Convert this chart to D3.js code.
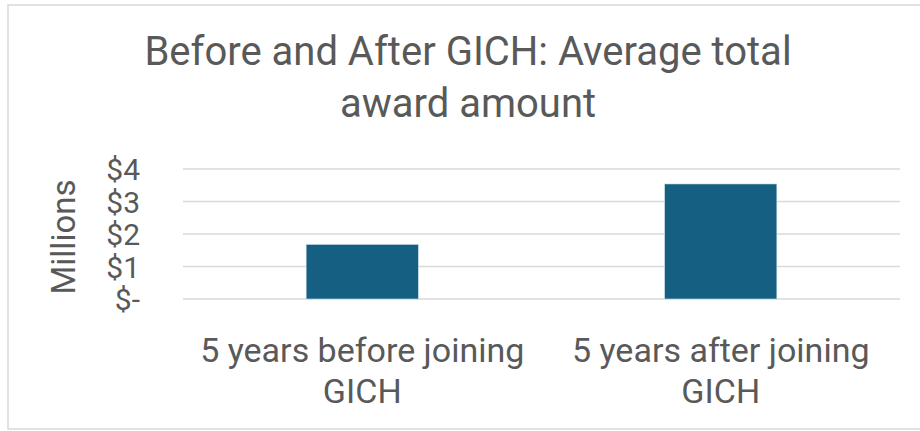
<!DOCTYPE html>
<html>
<head>
<meta charset="utf-8">
<script src="https://cdn.jsdelivr.net/npm/d3@7"></script>
<style>
  html, body { margin: 0; padding: 0; background: #fff; }
  svg { display: block; font-family: Roboto, "Noto Sans", sans-serif; }
</style>
</head>
<body>
<svg id="chart" width="920" height="431"></svg>
<script>
// data (values in millions of dollars)
const categories = [
  ["5 years before joining", "GICH"],
  ["5 years after joining", "GICH"]
];
const awardValues = [1.68, 3.54];
const yTicks = [0, 1, 2, 3, 4];
const yTickLabels = ["$-", "$1", "$2", "$3", "$4"];

const titleLines = ["Before and After GICH: Average total", "award amount"];
const axisTitle = "Millions";

const WIDTH = 920;
const PLOT = { left: 183, right: 900, top: 169, bottom: 299 };
const TEXT = "#595959";
const BAR = "#156082";

const svg = d3.select("#chart");

// chart area border
svg.append("rect")
  .attr("x", 8).attr("y", 5)
  .attr("width", WIDTH + 10).attr("height", 424)
  .attr("fill", "#fff")
  .attr("stroke", "#d9d9d9")
  .attr("stroke-width", 1.5);

// title
svg.append("text")
  .attr("text-anchor", "middle")
  .attr("font-size", 40)
  .attr("fill", TEXT)
  .selectAll("tspan")
  .data(titleLines)
  .join("tspan")
    .attr("x", 468)
    .attr("y", (d, i) => 65 + i * 52)
    .text(d => d);

const keys = categories.map(d => d.join(" "));

const xScale = d3.scaleBand()
  .domain(keys)
  .range([PLOT.left, PLOT.right])
  .paddingInner(0.687)
  .paddingOuter(0.3435);

const yScale = d3.scaleLinear()
  .domain([0, 4])
  .range([PLOT.bottom, PLOT.top]);

// gridlines
svg.append("g")
  .selectAll("line")
  .data(yTicks)
  .join("line")
    .attr("x1", PLOT.left)
    .attr("x2", PLOT.right)
    .attr("y1", d => yScale(d))
    .attr("y2", d => yScale(d))
    .attr("stroke", "#d9d9d9")
    .attr("stroke-width", 1.5);

// bars
svg.append("g")
  .selectAll("rect")
  .data(awardValues)
  .join("rect")
    .attr("x", (d, i) => xScale(keys[i]))
    .attr("y", d => yScale(d))
    .attr("width", xScale.bandwidth())
    .attr("height", d => yScale(0) - yScale(d))
    .attr("fill", BAR)
    .attr("stroke", "#cfe0e8")
    .attr("stroke-width", 0.6);

// y axis labels (no domain line, no ticks)
const yAxis = svg.append("g")
  .attr("transform", `translate(${PLOT.left},0)`)
  .call(d3.axisLeft(yScale)
    .tickValues(yTicks)
    .tickSize(0)
    .tickPadding(43)
    .tickFormat((d, i) => yTickLabels[i]));
yAxis.select(".domain").remove();
yAxis.selectAll("text")
  .attr("font-family", "Roboto, 'Noto Sans', sans-serif")
  .attr("font-size", 30)
  .attr("fill", TEXT)
  .attr("dy", "0.36em");

svg.append("text")
  .attr("transform", "translate(75,237) rotate(-90)")
  .attr("text-anchor", "middle")
  .attr("font-size", 33)
  .attr("fill", TEXT)
  .text(axisTitle);

// category labels
const xLabels = svg.append("g")
  .selectAll("text")
  .data(categories)
  .join("text")
    .attr("text-anchor", "middle")
    .attr("font-size", 34)
    .attr("fill", TEXT);
xLabels.selectAll("tspan")
  .data((d, i) => d.map(line => ({ line, key: keys[i] })))
  .join("tspan")
    .attr("x", d => xScale(d.key) + xScale.bandwidth() / 2)
    .attr("y", (d, i) => 362 + i * 41)
    .text(d => d.line);
</script>
</body>
</html>
